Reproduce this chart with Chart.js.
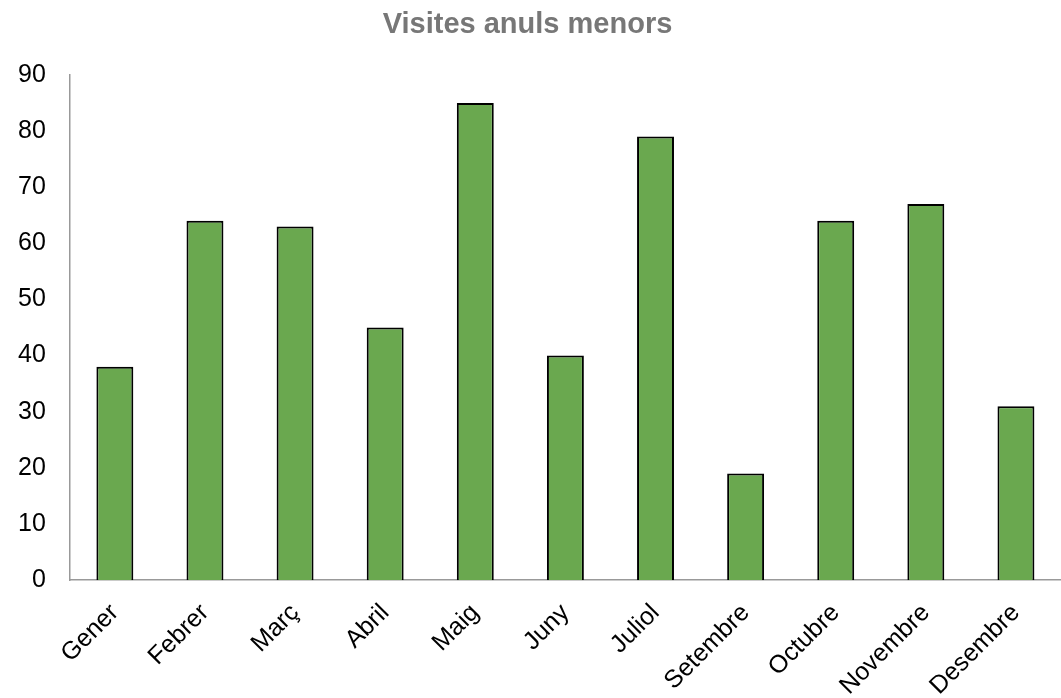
<!DOCTYPE html>
<html>
<head>
<meta charset="utf-8">
<script src="https://cdn.jsdelivr.net/npm/chart.js@4/dist/chart.umd.min.js"></script>
<style>
  html, body { margin: 0; padding: 0; background: #fff; }
  #wrap { width: 1061px; height: 698px; }
</style>
</head>
<body>
<div id="wrap"><canvas id="canvas1"></canvas></div>
<script>
const titol = 'Visites anuls menors';
const mesos = ['Gener', 'Febrer', 'Març', 'Abril', 'Maig', 'Juny', 'Juliol', 'Setembre', 'Octubre', 'Novembre', 'Desembre'];
const visites = [38, 64, 63, 45, 85, 40, 79, 19, 64, 67, 31];
const yMin = 0;
const yMax = 90;
const yPas = 10;

const data = {
    labels: mesos,
    datasets: [
        {
            label: titol,
            data: visites,
            backgroundColor: '#6aa84f',
            borderColor: '#000000',
            borderWidth: 2,
            barPercentage: 0.41,
            categoryPercentage: 1
        }
    ]
};
const config = {
    type: 'bar',
    data: data,
    options: {
        responsive: true,
        maintainAspectRatio: false,
        animation: false,
        layout: {
            padding: { left: -6, right: 0, top: 0, bottom: -21 }
        },
        plugins: {
            legend: { display: false },
            tooltip: { enabled: false },
            title: {
                display: true,
                text: titol,
                color: '#777777',
                font: { family: 'Liberation Sans, Arial', size: 29, weight: 'bold' },
                padding: { top: 8, bottom: 32 }
            }
        },
        scales: {
            x: {
                grid: { display: false, drawTicks: false },
                border: { display: true, color: '#999999', width: 1.5 },
                ticks: {
                    color: '#000000',
                    font: { family: 'Liberation Sans, Arial', size: 25 },
                    minRotation: 45,
                    maxRotation: 45,
                    padding: 18,
                    autoSkip: false
                }
            },
            y: {
                min: yMin,
                max: yMax,
                grid: { display: false, drawTicks: false },
                border: { display: true, color: '#999999', width: 1.5 },
                ticks: {
                    stepSize: yPas,
                    color: '#000000',
                    font: { family: 'Liberation Sans, Arial', size: 25 },
                    padding: 24
                }
            }
        }
    }
};

var canvas = document.getElementById('canvas1');
const chart = new Chart(canvas, config);
</script>
</body>
</html>
